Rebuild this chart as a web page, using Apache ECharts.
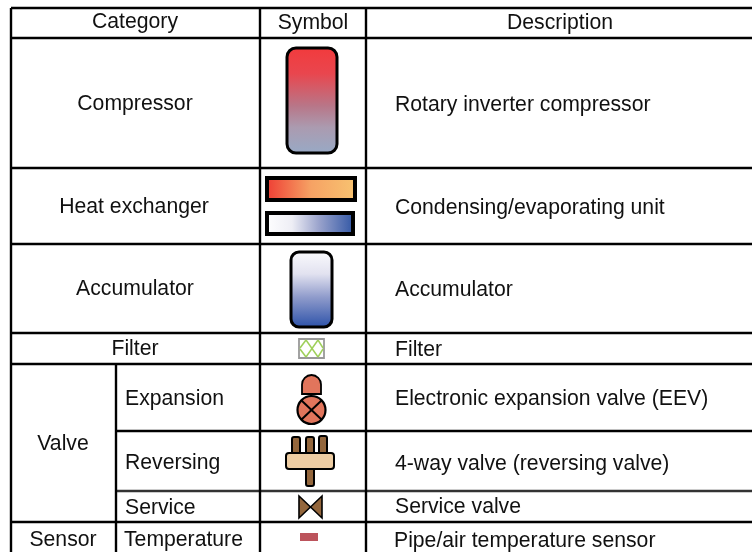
<!DOCTYPE html>
<html><head><meta charset="utf-8">
<style>html,body{margin:0;background:#fff}#c{width:752px;height:552px}</style>
<script src="https://cdn.jsdelivr.net/npm/echarts@6/dist/echarts.min.js"></script>
</head><body><div id="c"></div>
<script>
const headers = ['Category','Symbol','Description'];
const categories = ['Compressor','Heat exchanger','Accumulator','Filter','Valve','Sensor'];
const subCategories = ['Expansion','Reversing','Service','Temperature'];
const descriptions = ['Rotary inverter compressor','Condensing/evaporating unit','Accumulator','Filter','Electronic expansion valve (EEV)','4-way valve (reversing valve)','Service valve','Pipe/air temperature sensor'];

const F = 'Liberation Sans, Arial, sans-serif', FS = 21.2, K = '#000';
const g = [];
const line = (x1,y1,x2,y2,w=2.4,c=K)=>g.push({type:'line',shape:{x1,y1,x2,y2},style:{stroke:c,lineWidth:w}});
const text = (t,x,y,align='left')=>g.push({type:'text',x,y:y+1,style:{text:t,x:0,y:0,fill:'#111',font:FS+'px '+F,align,verticalAlign:'middle'}});
const grad = (x,y,x2,y2,stops)=>new echarts.graphic.LinearGradient(x,y,x2,y2,stops.map(([offset,color])=>({offset,color})));
const rect = (x,y,w,h,r,fill,stroke=K,lw=2.6)=>g.push({type:'rect',shape:{x,y,width:w,height:h,r},style:{fill,stroke,lineWidth:lw}});
const poly = (points,fill,lw=1.6)=>g.push({type:'polygon',shape:{points},style:{fill,stroke:K,lineWidth:lw}});

// rules
[8,38,168,244,333,364,522].forEach(y=>line(11,y,752,y));
line(116,431,752,431); line(116,491,752,491,2.4,'#333');
line(11,8,11,552); line(260,8,260,552); line(366,8,366,552); line(116,364,116,552);

// headers
text(headers[0],135,21.5,'center'); text(headers[1],313,22,'center'); text(headers[2],560,22,'center');
// category column
text(categories[0],135,103,'center'); text(categories[1],134,206,'center'); text(categories[2],135,288,'center');
text(categories[3],135,348,'center'); text(categories[4],63,443,'center'); text(categories[5],63,539,'center');
text(subCategories[0],125,398); text(subCategories[1],125,462); text(subCategories[2],125,507); text(subCategories[3],124,539);
// descriptions
[[0,104],[1,207],[2,289],[3,349],[4,398],[5,463],[6,506],[7,540]].forEach(([i,y])=>text(descriptions[i],i===7?394:395,y));

// compressor
rect(287,48,50,105,9,grad(0,0,0,1,[[0,'#f23a3c'],[0.25,'#e9464e'],[0.55,'#b87688'],[0.75,'#ab9bb0'],[1,'#97aac6']]),K,3);
// heat exchangers
rect(267,178,88,22,0,grad(0,0,1,0,[[0,'#ee3b33'],[0.5,'#f6a264'],[1,'#f8c471']]),K,4);
rect(267,213,86,21,0,grad(0,0,1,0,[[0,'#ffffff'],[0.3,'#eeeef5'],[0.6,'#9aa3cc'],[1,'#2f55a4']]),K,4);
// accumulator
rect(291,252,41,75,8,grad(0,0,0,1,[[0,'#fbfbfd'],[0.3,'#e2e2f0'],[0.6,'#8f9bcb'],[1,'#2a50a8']]),K,3);
// filter
rect(299,339,25,19,0,'#fff','#999',1.8);
[[[300,348],[306,340]],[[300,349],[306,357]],[[306,340],[318,357]],[[318,340],[306,357]],[[318,340],[323,348]],[[318,357],[323,349]]].forEach(([a,b])=>line(a[0],a[1],b[0],b[1],1.5,'#9fd05a'));
// EEV
rect(302,375,19,19,[9.5,9.5,0,0],'#e1755c',K,1.8);
line(311,393,311,397,1.6);
g.push({type:'circle',shape:{cx:311.5,cy:410,r:14},style:{fill:'#e1755c',stroke:K,lineWidth:2.2}});
line(301,400,322,420,2); line(322,400,301,420,2);
// 4-way valve
[[292,437,8,20],[306,437,8,20],[319,436,8,21],[306,468,8,18]].forEach(([x,y,w,h])=>rect(x,y,w,h,2,'#93663c',K,2));
rect(286,453,48,16,3,'#eecda3',K,2);
// service valve
poly([[299,496],[322,518],[322,496],[299,518]],'#93663c');
// sensor
g.push({type:'rect',shape:{x:300,y:533,width:18,height:8},style:{fill:'#bc545c'}});

const chart = echarts.init(document.getElementById('c'),null,{renderer:'canvas'});
chart.setOption({animation:false,backgroundColor:'#fff',graphic:{elements:g}});
</script></body></html>
